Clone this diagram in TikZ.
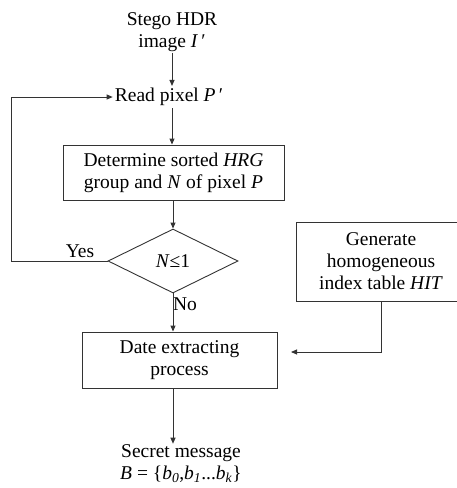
\documentclass[tikz,border=0pt]{standalone}
\usepackage{fontspec}
\setmainfont{Liberation Serif}
\usetikzlibrary{arrows.meta,shapes.geometric}
\tikzset{
  txt/.style={font=\fontsize{19.5}{22}\selectfont, align=center, inner sep=1pt},
  boxnode/.style={txt, draw=black!80, line width=0.9pt},
  conn/.style={draw=black!80, line width=0.9pt},
  arr/.style={conn, -{Triangle[length=6pt,width=5pt]}},
}
\begin{document}
\begin{tikzpicture}[x=1pt,y=-1pt]
\useasboundingbox (0,0) rectangle (457,488);
\node[txt] (start) at (172,32) {Stego HDR\\image \textit{I}\,′};
\node[txt, inner sep=2pt] (read) at (169,97) {Read pixel \textit{P}\,′};
\node[boxnode, minimum width=221pt, minimum height=55pt] (box1) at (173.5,172.5)
  {Determine sorted \textit{HRG}\\group and \textit{N} of pixel \textit{P}};
\node[txt, draw=black!80, line width=0.9pt, diamond, minimum width=130pt, minimum height=64pt, inner sep=0pt] (dia) at (173,261)
  {\textit{N}≤1};
\node[boxnode, minimum width=195pt, minimum height=56pt] (box2) at (179.5,360)
  {Date extracting\\process};
\node[boxnode, minimum width=170pt, minimum height=79pt] (hit) at (381,261.5)
  {Generate\\homogeneous\\index table \textit{HIT}};
\node[txt] (secret) at (181,464)
  {Secret message\\\textit{B} = \{\textit{b}\textsubscript{\textit{0}},\textit{b}\textsubscript{\textit{1}}...\textit{b}\textsubscript{\textit{k}}\}};
\node[txt] (yes) at (80,251) {Yes};
\node[txt] (no) at (185,304) {No};
\coordinate (loopc) at (11,261);
\coordinate (hitin) at (291,352);
\draw[arr] (start.south) -- (start.south |- read.north);
\draw[arr] (read.south -| start.south) -- (start.south |- box1.north);
\draw[arr] (box1.south -| dia.north) -- (dia.north);
\draw[arr] (dia.south) -- (dia.south |- box2.north);
\draw[arr] (dia.west) -- (loopc) |- (read.west);
\draw[arr] (hit.south) |- (hitin);
\draw[arr] (box2.south -| dia.south) -- (dia.south |- secret.north);
\end{tikzpicture}
\end{document}
